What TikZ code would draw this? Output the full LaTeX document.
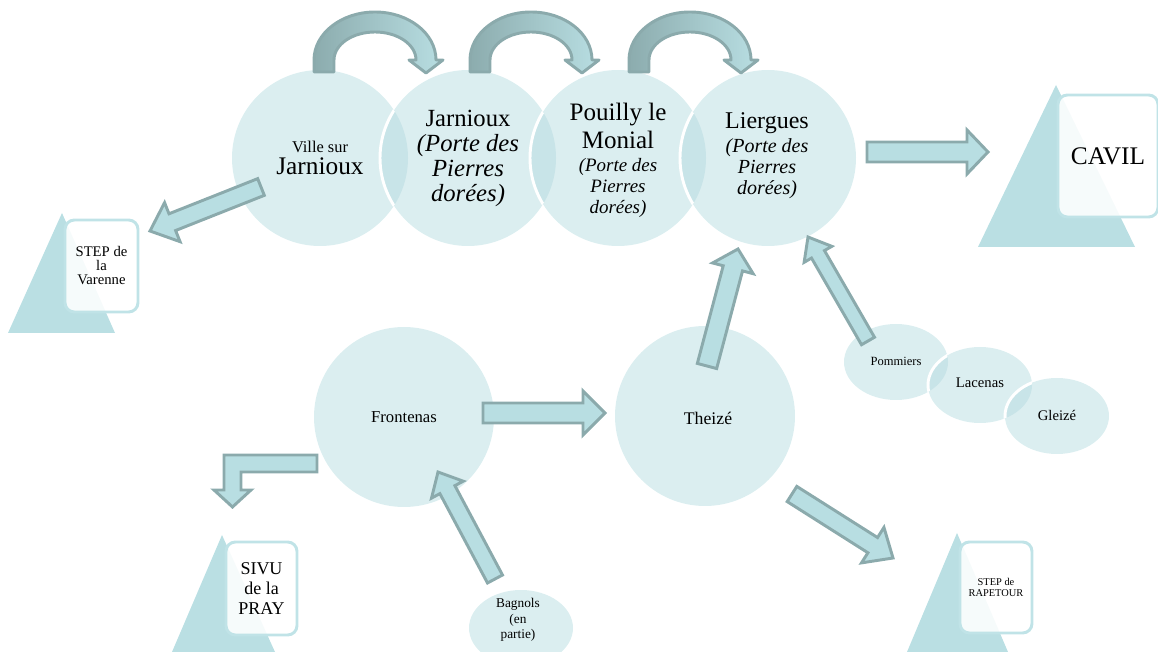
\documentclass[tikz,border=0pt]{standalone}
\usepackage{fontspec}
\setmainfont{Liberation Serif}
\usetikzlibrary{shapes.geometric}
\definecolor{circ}{RGB}{219,238,240}
\definecolor{circdark}{RGB}{200,228,232}
\definecolor{trifill}{RGB}{186,223,227}
\definecolor{rectline}{RGB}{192,227,231}
\definecolor{barfill}{RGB}{184,222,226}
\definecolor{barline}{RGB}{139,170,172}
\definecolor{arcdark}{RGB}{140,172,174}
\definecolor{arclight}{RGB}{184,222,226}
\tikzset{
 topcirc/.style={circle, fill=circ, inner sep=0pt, minimum size=132pt},
 bigcirc/.style={circle, fill=circ, inner sep=0pt, minimum size=135pt},
 bubble/.style={ellipse, fill=circ, inner sep=0pt, minimum width=78pt, minimum height=57pt},
 lbl/.style={align=center, inner sep=0pt, text=black},
 stepbox/.style={rectangle, rounded corners=7pt, draw=rectline, line width=2.2pt, fill=white, fill opacity=0.88, text opacity=1, align=center, inner sep=0pt},
 trishape/.style={fill=trifill},
 blockarrow/.style={fill=barfill, draw=barline, line width=2.2pt, line join=miter},
 curvearrow/.style={left color=arcdark, right color=arclight, draw=barline, line width=2.2pt, line join=round},
 lensfill/.style={fill=circdark},
 lensline/.style={draw=white, line width=2.2pt},
}
% block arrow: tail x,y ; tip x,y ; shaft half width ; head half width ; head length (pixels)
\newcommand\blockarr[7]{%
 \pgfmathsetmacro\baDX{#3-#1}%
 \pgfmathsetmacro\baDY{#2-#4}%
 \pgfmathsetmacro\baANG{atan2(\baDY,\baDX)}%
 \pgfmathsetmacro\baLEN{veclen(\baDX,\baDY)}%
 \pgfmathsetmacro\baNECK{\baLEN-#7}%
 \begin{scope}[shift={(#1,#2)},rotate=\baANG,x=0.75pt,y=0.75pt]
  \draw[blockarrow] (0,-#5) -- (\baNECK,-#5) -- (\baNECK,-#6) -- (\baLEN,0) -- (\baNECK,#6) -- (\baNECK,#5) -- (0,#5) -- cycle;
 \end{scope}}
% curved arrow over the top circles, centre x in pixels
\newcommand\curvarr[1]{%
 \begin{scope}[shift={(#1,60)},x=0.75pt,y=0.75pt]
  \draw[curvearrow] (-61,-12) -- (-61,0) arc[start angle=180,end angle=0,x radius=61,y radius=48] -- (68,0) -- (51,-13) -- (34,0) -- (41,0) arc[start angle=0,end angle=180,x radius=41,y radius=28] -- (-41,-12) -- cycle;
 \end{scope}}
\begin{document}
\begin{tikzpicture}[x=0.75pt,y=-0.75pt]
\useasboundingbox (0,0) rectangle (1158,652);
\clip (0,0) rectangle (1158,652);

% ---- outlet boxes (triangle + rounded square)
\fill[trishape] (62,213) -- (8,333) -- (115,333) -- cycle;
\node[stepbox, minimum width=54.75pt, minimum height=69pt, font=\fontsize{11}{10.5}\selectfont] (varenne) at (101.5,266) {STEP de\\la\\Varenne};
\fill[trishape] (1056,85) -- (978,247) -- (1135,247) -- cycle;
\node[stepbox, minimum width=75pt, minimum height=91.5pt, font=\fontsize{19}{19}\selectfont] (cavil) at (1108,156) {CAVIL};
\fill[trishape] (222,535) -- (172,652) -- (275,652) -- cycle;
\node[stepbox, minimum width=53.25pt, minimum height=69.75pt, font=\fontsize{13.5}{15}\selectfont] (sivu) at (261.5,588.5) {SIVU\\de la\\PRAY};
\fill[trishape] (957,533) -- (907,652) -- (1008,652) -- cycle;
\node[stepbox, minimum width=54pt, minimum height=68.25pt, font=\fontsize{7.8}{8.5}\selectfont] (rapetour) at (996,587.5) {STEP de\\RAPETOUR};

% ---- top chain of circles
\node[topcirc] (ville) at (320,158) {};
\node[topcirc] (jarn) at (468,158) {};
\node[topcirc] (pouilly) at (618,158) {};
\node[topcirc] (liergues) at (768,158) {};
\begin{scope}\clip (ville.center) circle[radius=66pt];
 \fill[lensfill] (jarn.center) circle[radius=66pt];
 \draw[lensline] (jarn.center) circle[radius=66pt];\end{scope}
\begin{scope}\clip (jarn.center) circle[radius=66pt];
 \fill[lensfill] (pouilly.center) circle[radius=66pt];
 \draw[lensline] (pouilly.center) circle[radius=66pt];\end{scope}
\begin{scope}\clip (pouilly.center) circle[radius=66pt];
 \fill[lensfill] (liergues.center) circle[radius=66pt];
 \draw[lensline] (liergues.center) circle[radius=66pt];\end{scope}

% ---- lower circles
\node[bigcirc] (frontenas) at (404,417) {};
\node[bigcirc] (theize) at (705,416) {};

% ---- small bubbles
\node[bubble] (pommiers) at (896,362) {};
\node[bubble] (lacenas) at (980,385) {};
\node[bubble] (gleize) at (1057,416) {};
\begin{scope}\clip (pommiers.center) ellipse[x radius=39pt, y radius=28.5pt];
 \fill[lensfill] (lacenas.center) ellipse[x radius=39pt, y radius=28.5pt];
 \draw[lensline] (lacenas.center) ellipse[x radius=39pt, y radius=28.5pt];\end{scope}
\begin{scope}\clip (lacenas.center) ellipse[x radius=39pt, y radius=28.5pt];
 \fill[lensfill] (gleize.center) ellipse[x radius=39pt, y radius=28.5pt];
 \draw[lensline] (gleize.center) ellipse[x radius=39pt, y radius=28.5pt];\end{scope}
\node[bubble] (bagnols) at (521,628) {};

% ---- curved arrows between top circles
\curvarr{375}
\curvarr{531}
\curvarr{690}

% ---- block arrows
\blockarr{261}{187}{150}{231}{9}{21}{24}     % Ville -> STEP de la Varenne
\blockarr{867}{152}{988}{152}{10}{22}{21}    % Liergues -> CAVIL
\blockarr{483}{413}{605}{413}{10}{22}{22}    % Frontenas -> Theize
\blockarr{707}{366}{738}{249}{10}{21}{20}    % Theize -> Liergues
\blockarr{868}{341}{808}{237}{7.5}{16}{20}   % Pommiers -> Liergues
\blockarr{495}{579}{438}{472}{8.5}{18}{20}   % Bagnols -> Frontenas
\blockarr{792}{494}{893}{558}{9}{21}{24}     % Theize -> STEP de RAPETOUR
% bent arrow Frontenas -> SIVU
\draw[blockarrow] (317,455) -- (224,455) -- (224,490) -- (214,490) -- (232.5,507) -- (251,490) -- (241,490) -- (241,472) -- (317,472) -- cycle;

% ---- labels
\node[lbl, font=\fontsize{19}{17}\selectfont] (ville-t) at (ville.center) {{\fontsize{12.3}{14}\selectfont Ville sur}\\Jarnioux};
\node[lbl, font=\fontsize{18.5}{18.75}\selectfont] (jarn-t) at (468,158) {Jarnioux\\\textit{(Porte des}\\\textit{Pierres}\\\textit{dorées)}};
\node[lbl, font=\fontsize{14.2}{15.75}\selectfont] (pouilly-t) at (618,160) {{\fontsize{18.8}{19}\selectfont Pouilly le}\\[3pt]{\fontsize{18.8}{19}\selectfont Monial}\\[1.5pt]\textit{(Porte des}\\\textit{Pierres}\\\textit{dorées)}};
\node[lbl, font=\fontsize{15}{16}\selectfont] (liergues-t) at (767,156) {{\fontsize{18}{19}\selectfont Liergues}\\[1.5pt]\textit{(Porte des}\\\textit{Pierres}\\\textit{dorées)}};
\node[lbl, font=\fontsize{12.5}{14}\selectfont] (frontenas-t) at (frontenas.center) {Frontenas};
\node[lbl, font=\fontsize{13.3}{15}\selectfont] (theize-t) at (708,418) {Theizé};
\node[lbl, font=\fontsize{9.4}{11}\selectfont] (pommiers-t) at (896,361) {Pommiers};
\node[lbl, font=\fontsize{11}{12}\selectfont] (lacenas-t) at (980,383) {Lacenas};
\node[lbl, font=\fontsize{11}{12}\selectfont] (gleize-t) at (1057,415) {Gleizé};
\node[lbl, font=\fontsize{10}{11.5}\selectfont] (bagnols-t) at (518,620) {Bagnols\\(en\\partie)};
\end{tikzpicture}
\end{document}
